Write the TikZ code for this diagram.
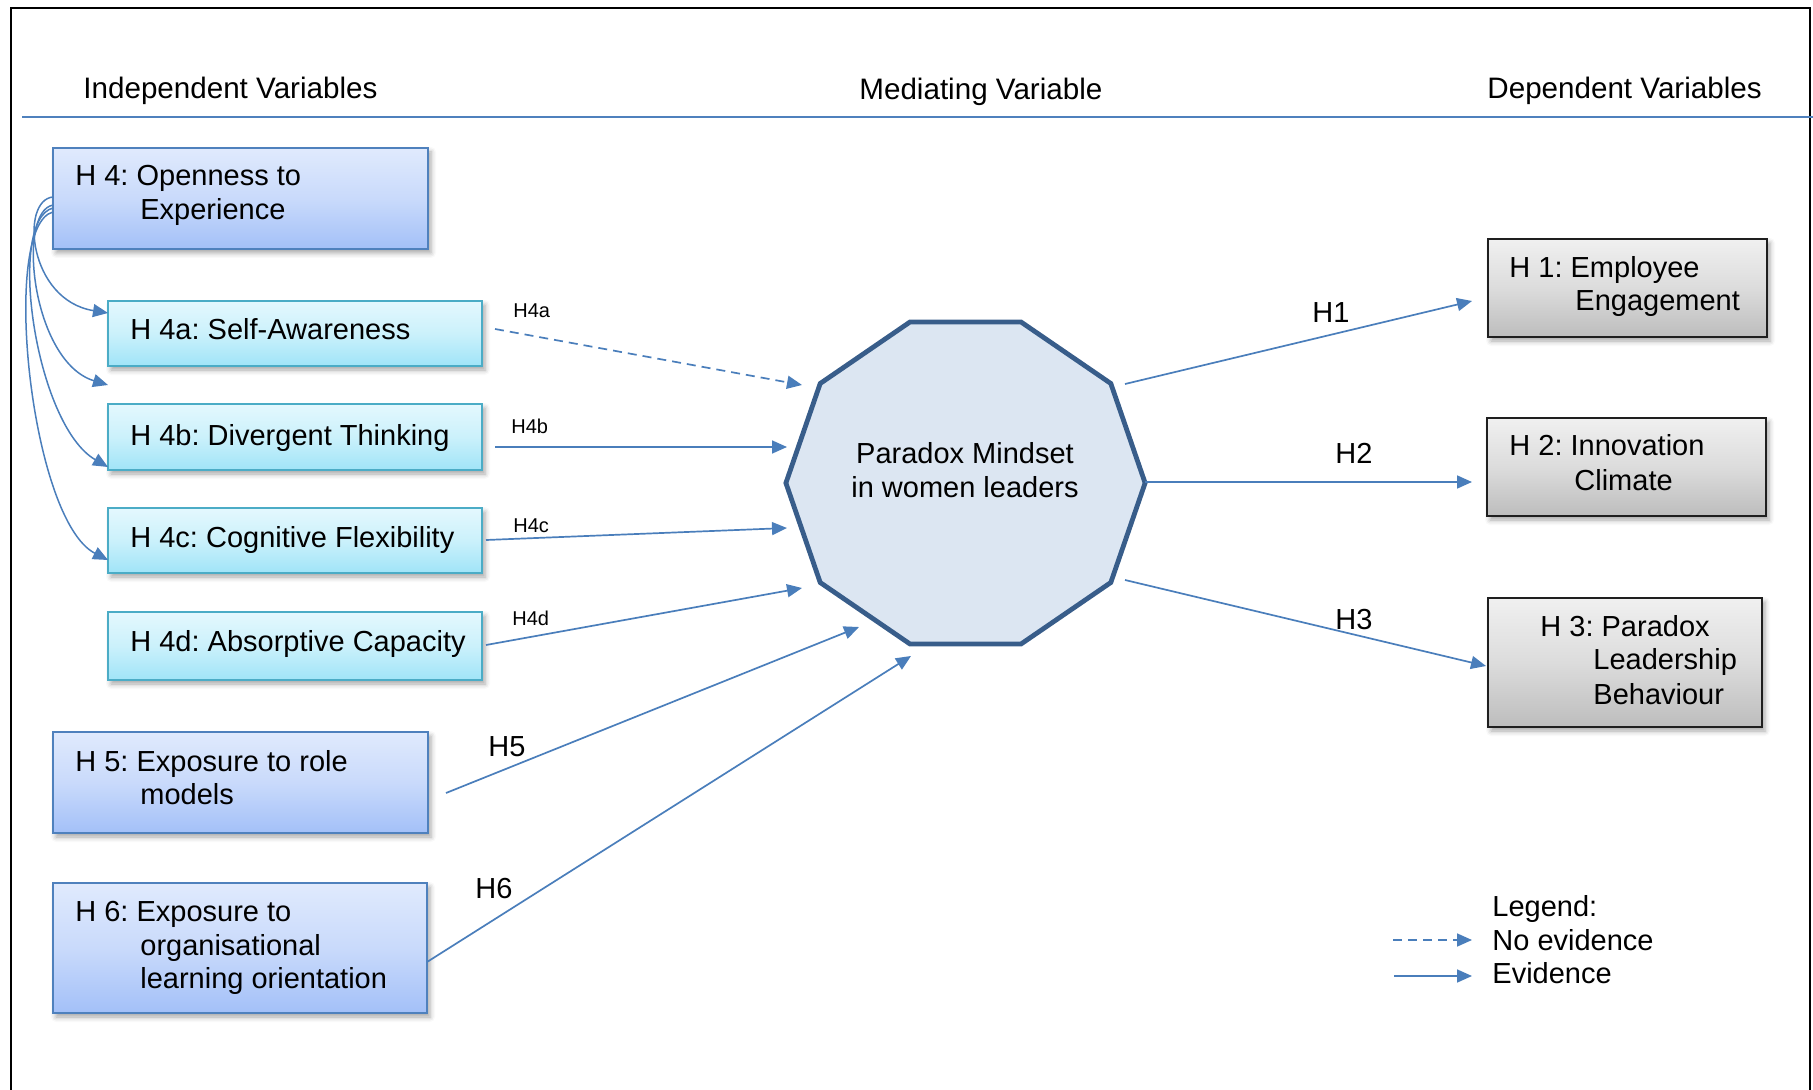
\documentclass[tikz,border=0pt]{standalone}
\usepackage{fontspec}
\setmainfont{Liberation Sans}
\usetikzlibrary{arrows.meta,shadows.blur}
\frenchspacing

\definecolor{arrowblue}{HTML}{4A7EBB}
\definecolor{headblue}{HTML}{4F81BD}
\definecolor{bluebd}{HTML}{4F81BD}
\definecolor{bluetop}{HTML}{E0EAFD}
\definecolor{bluemid}{HTML}{C9DAFB}
\definecolor{bluebot}{HTML}{A3C0F8}
\definecolor{aquabd}{HTML}{4BACC6}
\definecolor{aquatop}{HTML}{E4F8FE}
\definecolor{aquamid}{HTML}{CBF1FB}
\definecolor{aquabot}{HTML}{A0E4F8}
\definecolor{greybd}{HTML}{1F1F1F}
\definecolor{greytop}{HTML}{F0F0F0}
\definecolor{greymid}{HTML}{DCDCDC}
\definecolor{greybot}{HTML}{BDBDBD}
\definecolor{decabd}{HTML}{385D8A}
\definecolor{decafill}{HTML}{DCE6F2}

\newcommand\boxfont{\fontsize{14.5}{17}\selectfont}
\newcommand\headfont{\fontsize{14.8}{17}\selectfont}
\newcommand\smallfont{\fontsize{10}{12}\selectfont}

\tikzset{
  frameline/.style={line width=1.2pt, black},
  headline/.style={line width=1pt, headblue},
  boxbase/.style={rectangle, inner sep=0pt, outer sep=0pt, line width=1pt,
    blur shadow={shadow xshift=1.5pt, shadow yshift=-2pt,
      shadow blur radius=2.5pt, shadow opacity=35}},
  bluebox/.style={boxbase, draw=bluebd, top color=bluetop, bottom color=bluebot, middle color=bluemid},
  aquabox/.style={boxbase, draw=aquabd, top color=aquatop, bottom color=aquabot, middle color=aquamid},
  greybox/.style={boxbase, draw=greybd, top color=greytop, bottom color=greybot, middle color=greymid},
  txt/.style={inner sep=0pt, anchor=base west, font=\boxfont},
  headtxt/.style={inner sep=0pt, anchor=base west, font=\headfont},
  midtxt/.style={inner sep=0pt, anchor=base, font=\boxfont},
  smalllbl/.style={inner sep=0pt, anchor=base west, font=\smallfont},
  biglbl/.style={inner sep=0pt, anchor=base west, font=\boxfont},
  arr/.style={arrowblue, line width=0.85pt, -{Triangle[length=7.5pt,width=6.5pt]}},
  noevid/.style={arr, dash pattern=on 4.5pt off 3pt},
  link/.style={arrowblue, line width=0.75pt, -{Triangle[length=7.5pt,width=6.5pt]}}
}

\begin{document}
\begin{tikzpicture}[x=0.5pt,y=-0.5pt]
\useasboundingbox (0,0) rectangle (1813,1090);

% outer frame (open at the bottom)
\draw[frameline] (11,1090) -- (11,8) -- (1810,8) -- (1810,1090);

% column headings
\node[headtxt] (hind) at (83,99) {Independent Variables};
\node[headtxt] (hmed) at (859,100) {Mediating Variable};
\node[headtxt] (hdep) at (1487,99) {Dependent Variables};
\draw[headline] (22,117) -- (1813,117);

% independent variables
\node[bluebox, minimum width=187.5pt, minimum height=50.5pt] (b4) at (240.5,198.5) {};
\node[aquabox, minimum width=187pt, minimum height=32.5pt] (b4a) at (295,333.5) {};
\node[aquabox, minimum width=187pt, minimum height=33pt] (b4b) at (295,437) {};
\node[aquabox, minimum width=187pt, minimum height=32.5pt] (b4c) at (295,540.5) {};
\node[aquabox, minimum width=187pt, minimum height=34pt] (b4d) at (295,646) {};
\node[bluebox, minimum width=187.5pt, minimum height=50.5pt] (b5) at (240.5,782.5) {};
\node[bluebox, minimum width=187pt, minimum height=65pt] (b6) at (240,948) {};

\node[txt] (t4x) at (75,186) {H 4: Openness to};
\node[txt] (t4y) at (140,220) {Experience};
\node[txt] (t4a) at (130,340) {H 4a: Self-Awareness};
\node[txt] (t4b) at (130,445) {H 4b: Divergent Thinking};
\node[txt] (t4c) at (130,547) {H 4c: Cognitive Flexibility};
\node[txt] (t4d) at (130,651) {H 4d: Absorptive Capacity};
\node[txt] (t5x) at (75,771) {H 5: Exposure to role};
\node[txt] (t5y) at (140,804) {models};
\node[txt] (t6x) at (75,921) {H 6: Exposure to};
\node[txt] (t6y) at (140,955) {organisational};
\node[txt] (t6z) at (140,988) {learning orientation};

% dependent variables
\node[greybox, minimum width=139.5pt, minimum height=49pt] (b1) at (1627.5,288) {};
\node[greybox, minimum width=139.5pt, minimum height=49pt] (b2) at (1626.5,467) {};
\node[greybox, minimum width=137pt, minimum height=64.5pt] (b3) at (1625,662.5) {};

\node[txt] (t1x) at (1509,278) {H 1: Employee};
\node[txt] (t1y) at (1575,311) {Engagement};
\node[txt] (t2x) at (1509,456) {H 2: Innovation};
\node[txt] (t2y) at (1574,490) {Climate};
\node[txt] (t3x) at (1540,636) {H 3: Paradox};
\node[txt] (t3y) at (1593,669) {Leadership};
\node[txt] (t3z) at (1593,704) {Behaviour};

% mediating variable: decagon
\begin{scope}[shift={(965.5,483)}, x=89.8pt, y=84.65pt]
  \draw[line width=2.4pt, draw=decabd, fill=decafill, line join=miter]
    (0:1) -- (36:1) -- (72:1) -- (108:1) -- (144:1) -- (180:1)
    -- (216:1) -- (252:1) -- (288:1) -- (324:1) -- cycle;
\end{scope}
\node[midtxt] (pm1) at (965,464) {Paradox Mindset};
\node[midtxt] (pm2) at (965,497) {in women leaders};

% arrow end points
\coordinate (s4a) at (495,329);  \coordinate (e4a) at (802,385);
\coordinate (s4b) at (495,447);  \coordinate (e4b) at (787,447);
\coordinate (s4c) at (486,540);  \coordinate (e4c) at (787,528);
\coordinate (s4d) at (486,645);  \coordinate (e4d) at (802,588);
\coordinate (s5)  at (446,793);  \coordinate (e5)  at (859,627);
\coordinate (s6)  at (427,962);  \coordinate (e6)  at (911,656);
\coordinate (s1)  at (1125,384); \coordinate (e1)  at (1472,301);
\coordinate (s2)  at (1145,482); \coordinate (e2)  at (1472,482);
\coordinate (s3)  at (1125,580); \coordinate (e3)  at (1486,666);

% hypothesised paths
\draw[noevid] (s4a) -- (e4a);
\draw[arr] (s4b) -- (e4b);
\draw[arr] (s4c) -- (e4c);
\draw[arr] (s4d) -- (e4d);
\draw[arr] (s5) -- (e5);
\draw[arr] (s6) -- (e6);
\draw[arr] (s1) -- (e1);
\draw[arr] (s2) -- (e2);
\draw[arr] (s3) -- (e3);

\node[smalllbl] (l4a) at (513,318) {H4a};
\node[smalllbl] (l4b) at (511,434) {H4b};
\node[smalllbl] (l4c) at (513,532) {H4c};
\node[smalllbl] (l4d) at (512,625) {H4d};
\node[biglbl] (l5) at (488,756) {H5};
\node[biglbl] (l6) at (475,898) {H6};
\node[biglbl] (l1) at (1312,323) {H1};
\node[biglbl] (l2) at (1335,464) {H2};
\node[biglbl] (l3) at (1335,629) {H3};

% openness to experience feeding its facets
\coordinate (c1s) at (53,197); \coordinate (c1e) at (108,313);
\coordinate (c2s) at (53,205); \coordinate (c2e) at (108,385);
\coordinate (c3s) at (53,208); \coordinate (c3e) at (108,467);
\coordinate (c4s) at (53,212); \coordinate (c4e) at (108,560);
\draw[link] (c1s) .. controls (20,200) and (28,300) .. (c1e);
\draw[link] (c2s) .. controls (16,212) and (32,362) .. (c2e);
\draw[link] (c3s) .. controls (6,220) and (35,425) .. (c3e);
\draw[link] (c4s) .. controls (0,225) and (30,520) .. (c4e);

% legend
\node[txt] (lg0) at (1492,916) {Legend:};
\node[txt] (lg1) at (1492,950) {No evidence};
\node[txt] (lg2) at (1492,983) {Evidence};
\coordinate (lg1s) at (1393,940); \coordinate (lg1e) at (1472,940);
\coordinate (lg2s) at (1394,976); \coordinate (lg2e) at (1472,976);
\draw[noevid] (lg1s) -- (lg1e);
\draw[arr] (lg2s) -- (lg2e);
\end{tikzpicture}
\end{document}
